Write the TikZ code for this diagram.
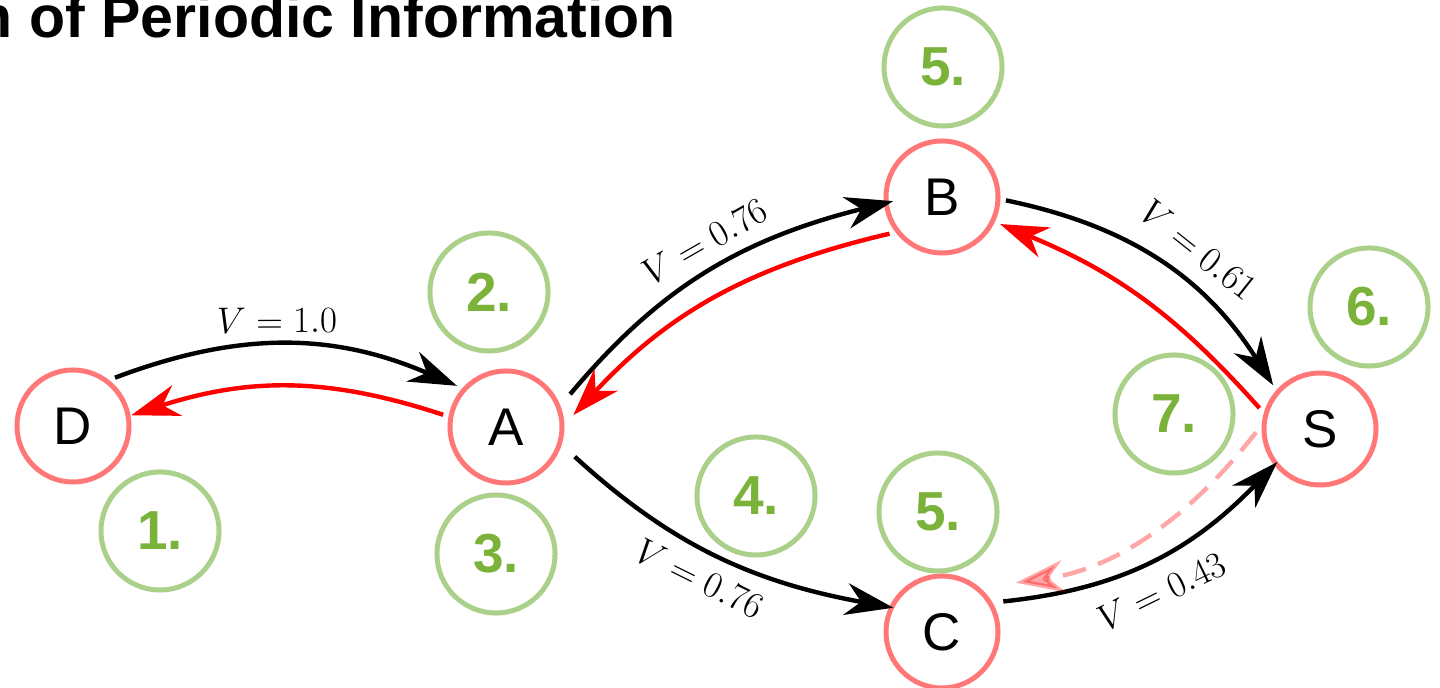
\RequirePackage{fix-cm}
\documentclass[tikz,border=0pt]{standalone}
\usepackage{amsmath,amssymb}
\usepackage{fontspec}
\usepackage{tikz}
\usetikzlibrary{positioning,arrows.meta,calc}
\usepackage{xcolor}
\newfontfamily\sansfont{Liberation Sans}
\definecolor{nodered}{HTML}{FF7777}
\definecolor{ringgreen}{HTML}{AAD08A}
\definecolor{numgreen}{HTML}{7AB23A}

\begin{document}
\begin{tikzpicture}[x=0.025cm,y=0.025cm,
  >={Stealth[length=1.2cm,width=0.8cm,inset=0.38cm]},
  vtx/.style={circle,draw=nodered,line width=0.125cm,minimum size=2.8cm,inner sep=0pt,outer sep=0.2cm,
    font=\sansfont\fontsize{37.7}{40}\selectfont},
  num/.style={circle,draw=ringgreen,line width=0.125cm,minimum size=2.95cm,inner sep=0pt,text=numgreen,
    font=\sansfont\bfseries\fontsize{39.1}{42}\selectfont},
  link/.style={->,line width=0.11cm},
  vlabel/.style={sloped,inner sep=0.33cm,font=\fontsize{26.3}{30}\selectfont}]
\useasboundingbox (0,0) rectangle (1440,688);

\node (title) [anchor=base east,inner sep=0pt,font=\sansfont\bfseries\fontsize{42}{46}\selectfont] at (676,650) {n of Periodic Information};

\node[vtx] (D) at (73,262) {D};
\node[vtx] (A) at (506,261) {A};
\node[vtx] (B) at (942,491) {B};
\node[vtx] (C) at (942,56) {C};
\node[vtx] (S) at (1320,259) {S};

\node[num] (n1) at (160,157) {1.};
\node[num] (n2) at (489,396) {2.};
\node[num] (n3) at (496,134) {3.};
\node[num] (n4) at (756,192) {4.};
\node[num] (n5top) at (943,621) {5.};
\node[num] (n5bot) at (938,176) {5.};
\node[num] (n6) at (1369,381) {6.};
\node[num] (n7) at (1174,274) {7.};

\draw[link] (D.49) to[bend left=22] node[vlabel,above,pos=0.47,inner sep=0.22cm]{$V=1.0$} (A.140);
\draw[link,red,shorten >=-0.12cm] (A.169) to[bend right=18] (D.11);
\draw[link,shorten <=0.22cm,shorten >=-0.38cm] (A.24) to[bend left=18] node[vlabel,above,pos=0.55]{$V=0.76$} (B.187);
\draw[link,red,shorten >=0.14cm] (B.215) to[bend right=17] (A.7);
\draw[link] (B.-3) to[bend left=23] node[vlabel,above,pos=0.57,inner sep=0.45cm]{$V=0.61$} (S.137);
\draw[link,red] (S.161) to[bend right=13] (B.-25);
\draw[link,shorten <=0.29cm,shorten >=-0.25cm] (A.-20) to[bend right=16] node[vlabel,below,pos=0.5]{$V=0.76$} (C.156);
\draw[link,shorten <=0.12cm,shorten >=-0.25cm] (C.28) to[bend right=20] node[vlabel,below,inner sep=0.42cm]{$V=0.43$} (S.219);
\draw[link,red,opacity=0.35,dash pattern=on 0.6cm off 0.32cm,shorten >=0.72cm] (S.183) to[bend left=22] (C.45);
\end{tikzpicture}
\end{document}
